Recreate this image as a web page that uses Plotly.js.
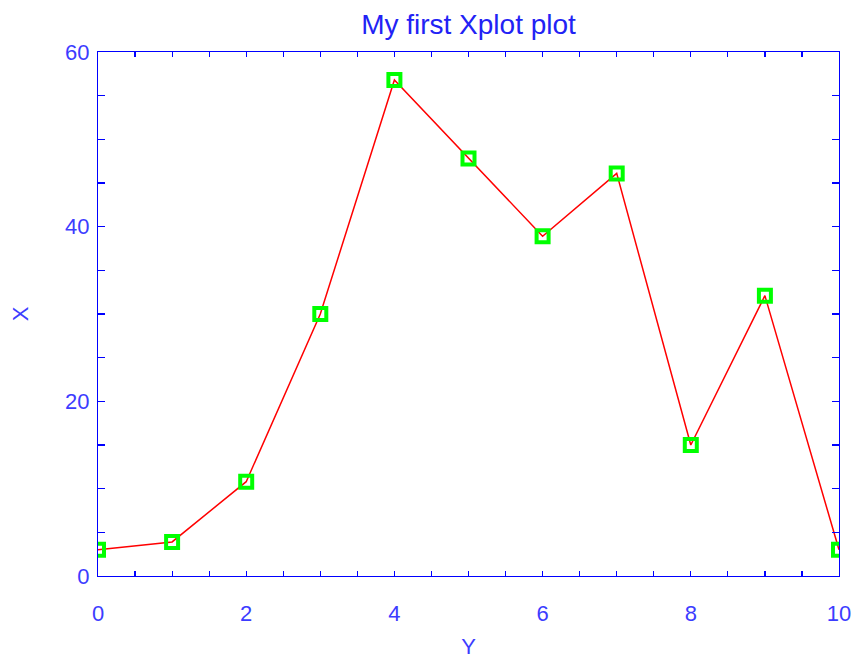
<!DOCTYPE html>
<html>
<head>
<meta charset="utf-8">
<script src="https://cdn.plot.ly/plotly-3.0.1.min.js"></script>
<style>html,body{margin:0;padding:0;background:#fff;}#chart{width:861px;height:659px;}</style>
</head>
<body>
<div id="chart"></div>
<script>
const xValues = [0, 1, 2, 3, 4, 5, 6, 7, 8, 9, 10];
const yValues = [3.0, 3.9, 10.8, 30.0, 56.8, 47.8, 38.9, 46.1, 15.0, 32.1, 3.0];
const titleText = "My first Xplot plot";
const xTitle = "Y";
const yTitle = "X";

const axisBlue = "#0000ff";
const labelBlue = "#3c3cff";
const fontFam = "Liberation Sans, Arial, Helvetica, sans-serif";

const traces = [{
  x: xValues, y: yValues, type: "scatter", mode: "lines",
  line: {color: "#ff0000", width: 1.5}, hoverinfo: "skip", cliponaxis: true
}, {
  x: xValues, y: yValues, type: "scatter", mode: "markers",
  marker: {symbol: "square-open", size: 12, color: "#00ff00", line: {color: "#00ff00", width: 4}},
  cliponaxis: true
}];

const layout = {
  width: 861, height: 659,
  margin: {l: 98, r: 22, t: 52, b: 83},
  paper_bgcolor: "#ffffff", plot_bgcolor: "#ffffff",
  showlegend: false,
  title: {text: titleText, font: {family: fontFam, size: 28, color: "#2222f5"},
          x: 0.5, xref: "paper", xanchor: "center", y: 1 - 24/659, yref: "container", yanchor: "middle"},
  xaxis: {
    range: [0, 10], dtick: 2, tick0: 0, showgrid: false, zeroline: false,
    showline: true, linecolor: axisBlue, linewidth: 1.2, mirror: "ticks",
    ticks: "inside", ticklen: 5, tickcolor: axisBlue, tickwidth: 1.2,
    minor: {dtick: 0.5, ticks: "inside", ticklen: 5, tickcolor: axisBlue, tickwidth: 1.2, showgrid: false},
    tickfont: {family: fontFam, size: 22, color: labelBlue},
    ticklabelstandoff: 17,
    title: {text: xTitle, font: {family: fontFam, size: 22, color: labelBlue}, standoff: 18},
    automargin: false, fixedrange: true
  },
  yaxis: {
    range: [0, 60], dtick: 20, tick0: 0, showgrid: false, zeroline: false,
    showline: true, linecolor: axisBlue, linewidth: 1.2, mirror: "ticks",
    ticks: "inside", ticklen: 7, tickcolor: axisBlue, tickwidth: 1.2,
    minor: {dtick: 5, ticks: "inside", ticklen: 7, tickcolor: axisBlue, tickwidth: 1.2, showgrid: false},
    tickfont: {family: fontFam, size: 22, color: labelBlue},
    ticklabelstandoff: 3,
    title: {text: yTitle, font: {family: fontFam, size: 22, color: labelBlue}, standoff: 30},
    automargin: false, fixedrange: true
  }
};

Plotly.newPlot("chart", traces, layout, {displayModeBar: false, staticPlot: true});
</script>
</body>
</html>
